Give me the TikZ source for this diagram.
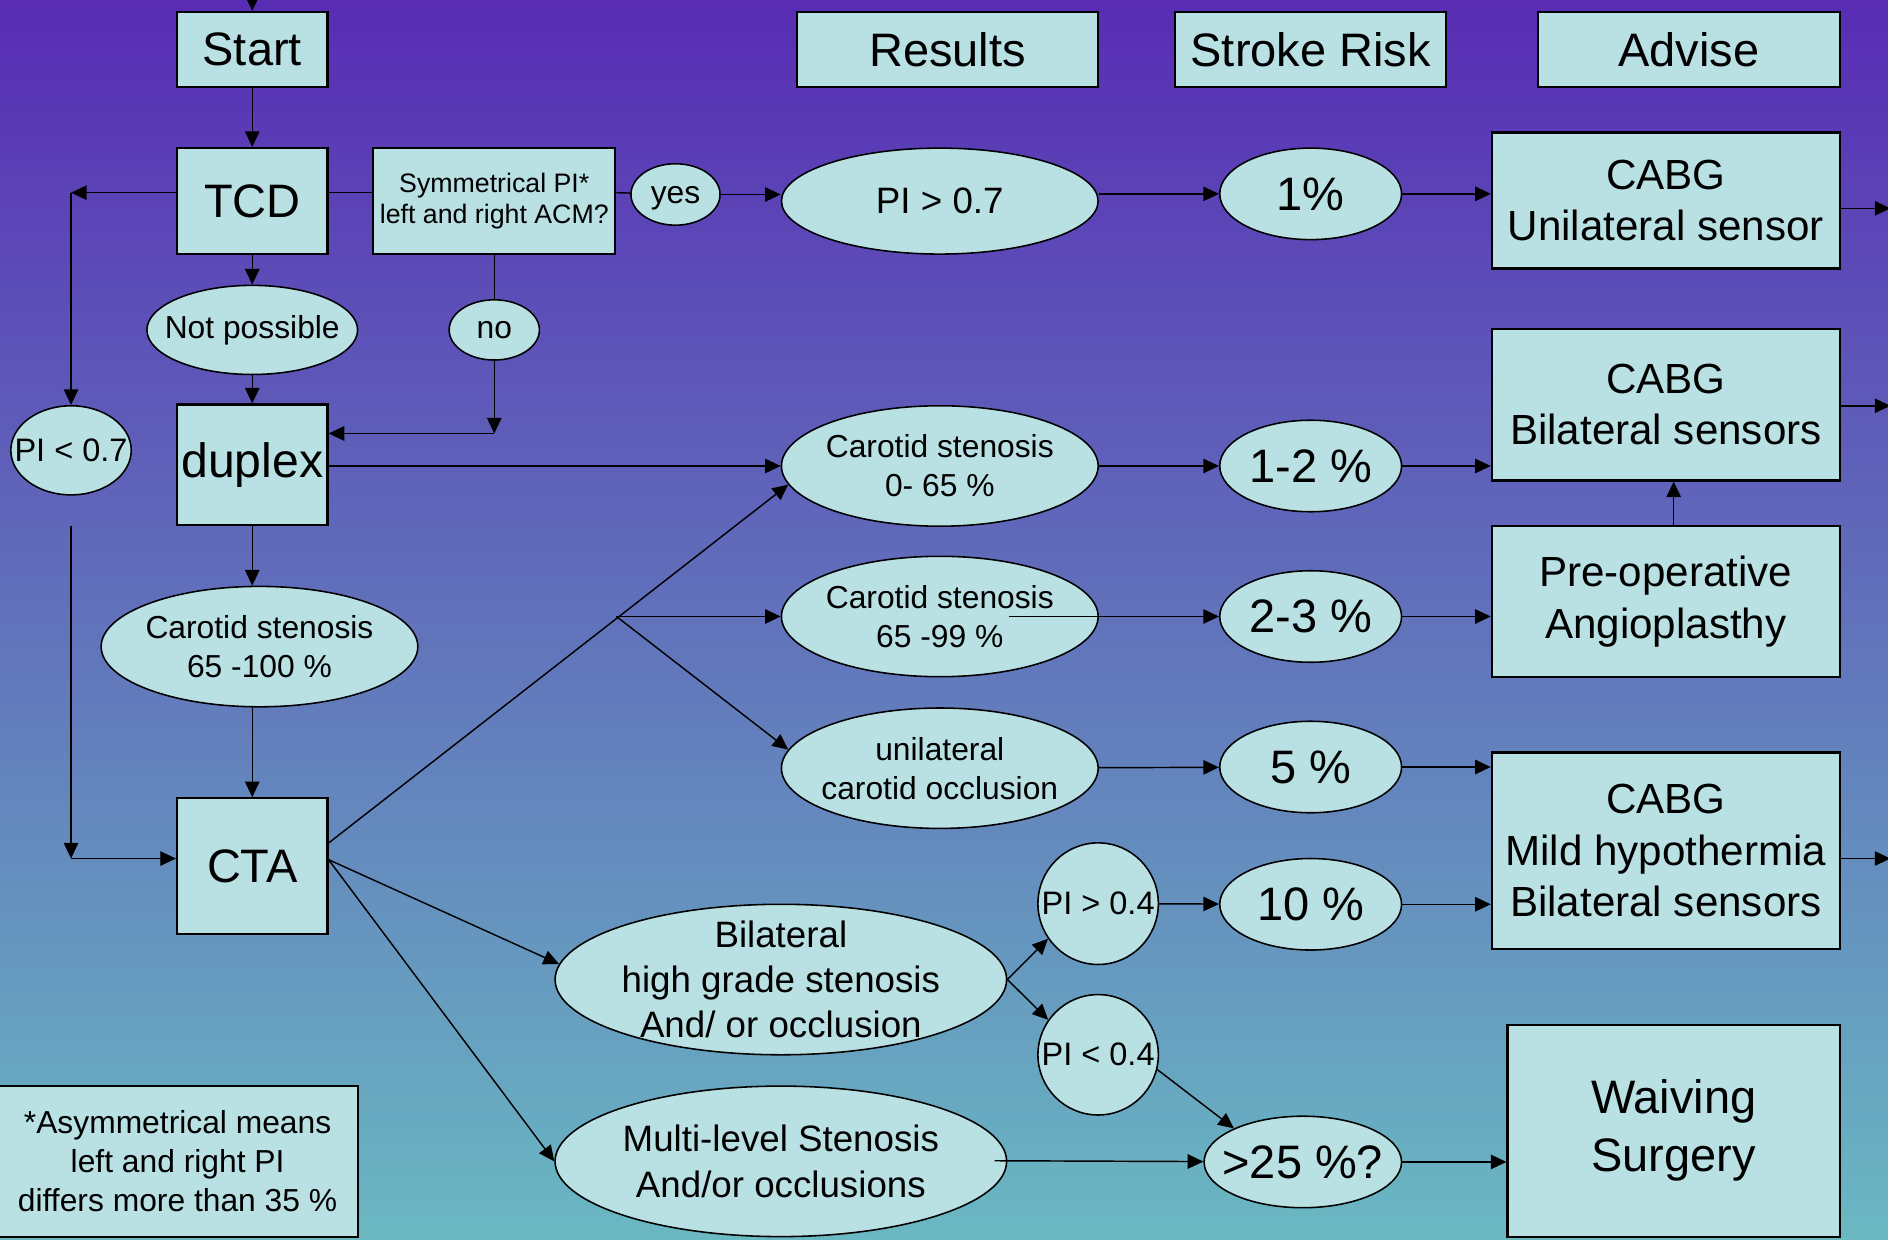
\documentclass[tikz,border=0pt]{standalone}
\usepackage{fontspec}
\setmainfont{Liberation Sans}
\usetikzlibrary{shapes.geometric,arrows.meta}
\definecolor{bgtop}{RGB}{88,44,180}
\definecolor{bgmid}{RGB}{98,126,188}
\definecolor{bgbot}{RGB}{106,184,194}
\definecolor{boxc}{RGB}{185,224,227}
\begin{document}
\begin{tikzpicture}[x=1pt,y=-1pt,
  box/.style={draw=black,fill=boxc,line width=1.8pt,rectangle,inner sep=0pt,align=center},
  ell/.style={draw=black,fill=boxc,line width=1.3pt,ellipse,inner sep=0pt},
  lab/.style={align=center,inner sep=0pt},
  conn/.style={line width=1.2pt},
  arr/.style={line width=1.2pt,-{Triangle[length=13pt,width=12pt]}},
  fA/.style={font=\fontsize{39}{48}\selectfont},
  fB/.style={font=\fontsize{35}{43}\selectfont},
  fC/.style={font=\fontsize{30.5}{37.5}\selectfont},
  fD/.style={font=\fontsize{27}{33}\selectfont},
  fE/.style={font=\fontsize{26.4}{32.5}\selectfont},
  fF/.style={font=\fontsize{22.2}{26}\selectfont},
]
\useasboundingbox (0,0) rectangle (1568,1029);
\clip (0,0) rectangle (1568,1029);
\shade[top color=bgtop,middle color=bgmid,bottom color=bgbot] (0,0) rectangle (1568,1029);

% header boxes
\node[box,fA,minimum width=125pt,minimum height=62pt] (start) at (209.5,41) {Start};
\node[box,fA,minimum width=250pt,minimum height=62pt] (results) at (787,41) {Results};
\node[box,fA,minimum width=225pt,minimum height=62pt] (stroke) at (1088.5,41) {Stroke Risk};
\node[box,fA,minimum width=251pt,minimum height=62pt] (advise) at (1402.5,41) {Advise};

% row 1
\node[box,fA,minimum width=125pt,minimum height=88pt] (tcd) at (209.5,167) {TCD};
\node[box,fF,minimum width=201pt,minimum height=88pt] (sym) at (410.5,167) {Symmetrical PI*\\left and right ACM?};
\node[ell,minimum width=74pt,minimum height=51pt,label={[lab,fE,yshift=-3pt]center:yes}] (yes) at (561,161.5) {};
\node[ell,minimum width=263pt,minimum height=88pt,label={[lab,fC]center:{PI > 0.7}}] (pi07) at (780.5,167) {};
\node[ell,minimum width=151pt,minimum height=76pt,label={[lab,fA]center:{1\%}}] (r1) at (1088.5,161) {};
\node[box,fB,minimum width=289pt,minimum height=113pt] (cabgA) at (1383.5,166.5) {CABG\\Unilateral sensor};

% row 2
\node[ell,minimum width=175pt,minimum height=74pt,label={[lab,fE]center:{Not possible}}] (notpos) at (209.5,274) {};
\node[ell,minimum width=75pt,minimum height=50pt,label={[lab,fE]center:no}] (no) at (410.5,274) {};
\node[ell,minimum width=100pt,minimum height=74pt,label={[lab,fD]center:{PI < 0.7}}] (pil07) at (59,374) {};
\node[box,font=\fontsize{40}{48}\selectfont,minimum width=125pt,minimum height=100pt] (duplex) at (209.5,386) {duplex};
\node[ell,minimum width=263pt,minimum height=100pt,label={[lab,fE]center:{Carotid stenosis\\0- 65 \%}}] (cA) at (780.5,387) {};
\node[ell,minimum width=151pt,minimum height=76pt,label={[lab,fA]center:{1-2 \%}}] (r12) at (1088.5,387) {};
\node[box,fB,minimum width=289pt,minimum height=126pt] (cabgB) at (1383.5,336) {CABG\\Bilateral sensors};

% row 3
\node[ell,minimum width=263pt,minimum height=100pt,label={[lab,fE]center:{Carotid stenosis\\65 -100 \%}}] (cC) at (215.5,537) {};
\node[ell,minimum width=263pt,minimum height=100pt,label={[lab,fE]center:{Carotid stenosis\\65 -99 \%}}] (cB) at (780.5,512) {};
\node[ell,minimum width=151pt,minimum height=76pt,label={[lab,fA]center:{2-3 \%}}] (r23) at (1088.5,512) {};
\node[box,fB,minimum width=289pt,minimum height=125pt] (preop) at (1383.5,499.5) {Pre-operative\\Angioplasthy};

% row 4
\node[ell,minimum width=263pt,minimum height=100pt,label={[lab,fE]center:{unilateral\\carotid occlusion}}] (unil) at (780.5,638) {};
\node[ell,minimum width=151pt,minimum height=76pt,label={[lab,fA]center:{5 \%}}] (r5) at (1088.5,637) {};
\node[box,fB,minimum width=289pt,minimum height=163pt] (cabgC) at (1383.5,706.5) {CABG\\Mild hypothermia\\Bilateral sensors};
\node[box,fA,minimum width=125pt,minimum height=113pt] (cta) at (209.5,719.5) {CTA};

% row 5
\node[ell,minimum width=375pt,minimum height=125pt,label={[lab,fC]center:{Bilateral\\high grade stenosis\\And/ or occlusion}}] (bil) at (648.5,813.5) {};
\node[ell,minimum width=100pt,minimum height=101pt,label={[lab,fD]center:{PI > 0.4}}] (pig) at (912,750.5) {};
\node[ell,minimum width=151pt,minimum height=76pt,label={[lab,fA]center:{10 \%}}] (r10) at (1088.5,751) {};
\node[ell,minimum width=100pt,minimum height=100pt,label={[lab,fD]center:{PI < 0.4}}] (pil) at (912,876) {};

% row 6
\node[ell,minimum width=375pt,minimum height=125pt,label={[lab,fC]center:{Multi-level Stenosis\\And/or occlusions}}] (multi) at (648.5,964.5) {};
\node[ell,minimum width=164pt,minimum height=76pt,label={[lab,fA]center:{>25 \%?}}] (r25) at (1082,965) {};
\node[box,fA,minimum width=276pt,minimum height=176pt] (waive) at (1390,939) {Waiving\\Surgery};
\node[box,fE,minimum width=299pt,minimum height=125pt] (asym) at (147.5,964.5) {*Asymmetrical means\\left and right PI\\differs more than 35 \%};

% free ends
\coordinate (topin) at (209.5,-5);
\coordinate (cl) at (59,160);
\coordinate (nd) at (410.5,360);
\coordinate (pa) at (59,437);
\coordinate (pb) at (59,713);
\coordinate (br) at (512,512);
\coordinate (sB) at (838,512);
\coordinate (sM) at (826,964);
\coordinate (oA) at (1570,173);
\coordinate (oB) at (1570,337);
\coordinate (oC) at (1570,713);

% connectors
\draw[arr] (topin) -- (start);
\draw[arr] (start) -- (tcd);
\draw[arr] (tcd.west |- cl) -- (cl);
\draw[arr] (cl) -- (pil07);
\draw[conn] (tcd.east |- cl) -- (sym.west |- cl);
\draw[conn] (sym.east |- cl) -- (yes);
\draw[arr] (yes) -- (pi07.west |- yes);
\draw[arr] (pi07.east |- r1) -- (r1);
\draw[arr] (r1) -- (cabgA.west |- r1);
\draw[arr] (cabgA.east |- oA) -- (oA);
\draw[arr] (tcd) -- (notpos);
\draw[arr] (notpos) -- (duplex);
\draw[conn] (sym) -- (no);
\draw[arr] (no) -- (nd);
\draw[arr] (nd) -- (duplex.east |- nd);
\draw[arr] (pa) -- (pb);
\draw[arr] (pb) -- (cta.west |- pb);
\draw[arr] (duplex.east |- cA) -- (cA.west);
\draw[arr] (duplex.south) -- (duplex.south |- cC.north);
\draw[arr] (cC.south -| cta.north) -- (cta.north);
\draw[arr] (cta.17) -- (cA.187);
\draw[arr] (br) -- (cB.west);
\draw[arr] (br) -- (unil.173);
\draw[arr] (cta.5) -- (bil.176);
\draw[arr] (cta.5) -- (multi.west);
\draw[arr] (cA) -- (r12);
\draw[arr] (r12) -- (cabgB.west |- r12);
\draw[arr] (cabgB.east |- oB) -- (oB);
\draw[arr] ([xshift=6.5pt]preop.north) -- ([xshift=6.5pt]cabgB.south);
\draw[arr] (sB) -- (r23);
\draw[arr] (r23) -- (preop.west |- r23);
\draw[arr] (unil) -- (r5);
\draw[arr] (r5) -- (cabgC.west |- r5);
\draw[arr] (cabgC.east |- oC) -- (oC);
\draw[arr] (bil.east) -- (pig.215);
\draw[arr] (bil.east) -- (pil.145);
\draw[arr] (pig) -- (r10);
\draw[arr] (r10) -- (cabgC.west |- r10);
\draw[arr] (pil.-14) -- (r25.154);
\draw[arr] (sM) -- (r25);
\draw[arr] (r25) -- (waive.west |- r25);
\end{tikzpicture}
\end{document}
